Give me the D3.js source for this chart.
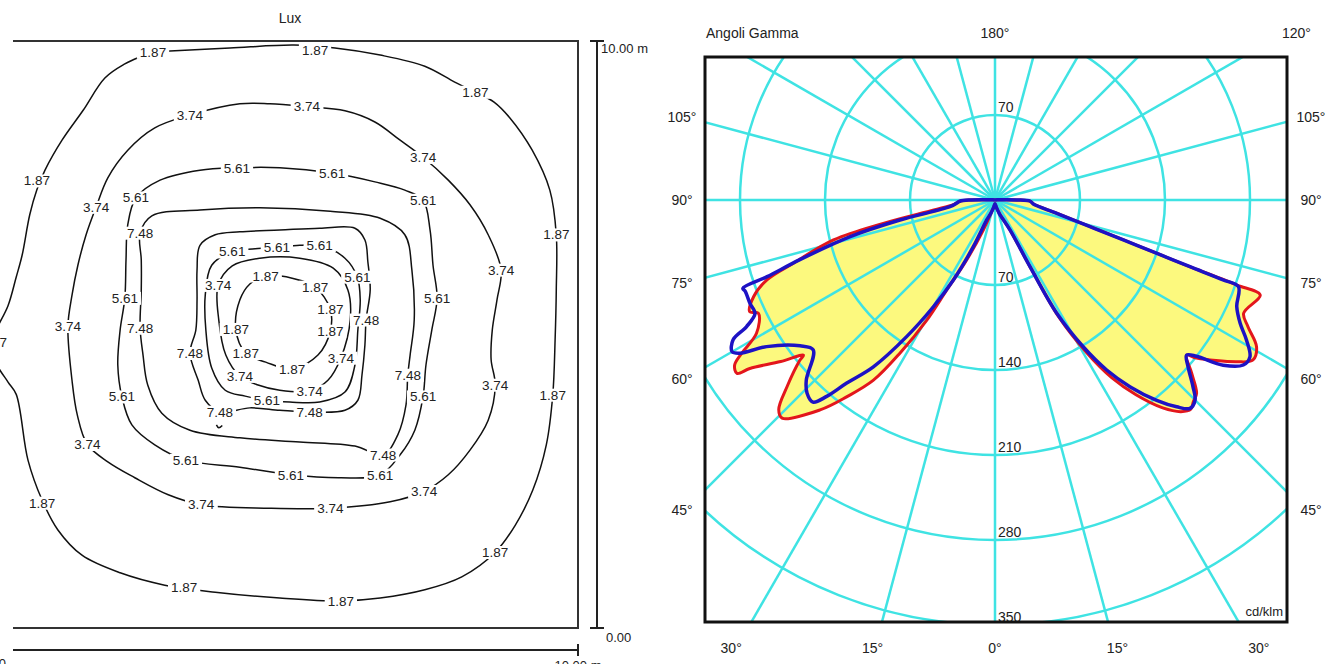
<!DOCTYPE html>
<html>
<head>
<meta charset="utf-8">
<script src="https://cdn.jsdelivr.net/npm/d3@7"></script>
<style>
  body { margin: 0; background: #fff; }
  svg { display: block; }
  text { font-family: "Liberation Sans", Arial, sans-serif; fill: #222; }
</style>
</head>
<body>
<svg id="chart" width="1325" height="664"></svg>
<script>
// ---------- isolux data (metres, 10 x 10 m area) ----------
const iso187Outer = [[2.76,9.81],[2.54,9.73],[2.28,9.61],[1.94,9.37],[1.57,8.82],[1.21,8.31],[0.92,7.80],[0.78,7.46],
  [0.66,7.04],[0.53,6.35],[0.43,5.98],[0.29,5.49],[0.09,5.08],[0.02,4.87],[0.09,4.51],[0.29,4.19],[0.43,3.98],
  [0.63,2.86],[0.87,2.18],[1.14,1.67],[1.55,1.24],[2.20,0.94],[2.96,0.73],[3.82,0.61],[4.92,0.51],[5.96,0.46],
  [6.63,0.51],[7.39,0.65],[8.02,0.87],[8.59,1.29],[8.93,1.75],[9.23,2.35],[9.46,3.12],[9.57,3.97],[9.61,4.91],
  [9.63,5.76],[9.63,6.70],[9.52,7.46],[9.22,8.14],[8.84,8.69],[8.57,8.96],[8.25,9.13],[7.90,9.30],[7.39,9.57],
  [6.63,9.76],[5.86,9.88],[5.16,9.93],[4.07,9.88],[3.05,9.83]];
const iso374Outer = [[3.39,8.74],[4.24,8.93],[4.75,8.93],[5.38,8.88],[6.03,8.81],[6.54,8.62],[6.97,8.31],[7.36,8.02],
  [7.79,7.63],[8.16,7.21],[8.47,6.70],[8.69,6.10],[8.62,5.59],[8.54,5.08],[8.52,4.57],[8.59,4.14],[8.47,3.54],
  [8.16,3.03],[7.79,2.61],[7.38,2.33],[6.80,2.15],[5.78,2.04],[4.75,2.04],[3.58,2.10],[3.02,2.27],[2.45,2.56],
  [1.99,2.83],[1.64,3.13],[1.47,3.63],[1.38,4.22],[1.31,5.14],[1.38,5.67],[1.48,6.18],[1.62,6.70],[1.79,7.17],
  [1.99,7.67],[2.33,8.14],[2.79,8.52]];
const iso561Outer = [[2.47,7.33],[2.88,7.63],[3.56,7.80],[4.19,7.84],[4.92,7.84],[5.81,7.75],[6.54,7.60],[7.05,7.46],
  [7.36,7.29],[7.48,6.78],[7.53,6.18],[7.60,5.62],[7.51,5.08],[7.41,4.48],[7.36,3.94],[7.22,3.37],[6.97,2.95],
  [6.63,2.61],[5.95,2.56],[5.11,2.61],[4.24,2.74],[3.32,2.86],[2.79,3.12],[2.40,3.46],[2.23,3.94],[2.16,4.48],
  [2.20,5.08],[2.28,5.62],[2.30,6.27],[2.33,6.87]];
const iso748Outer = [[2.54,6.73],[2.74,7.02],[3.56,7.12],[4.58,7.16],[5.78,7.10],[6.63,6.98],[7.05,6.70],[7.17,6.10],
  [7.21,5.25],[7.14,4.65],[7.10,4.31],[7.07,3.80],[6.93,3.29],[6.68,2.95],[6.20,3.10],[5.26,3.17],[4.24,3.24],
  [3.39,3.37],[2.91,3.66],[2.67,4.14],[2.59,4.65],[2.54,5.11],[2.56,5.76],[2.56,6.27]];
const iso748Inner = [[3.56,6.52],[3.82,6.70],[4.24,6.75],[4.92,6.78],[5.60,6.81],[6.20,6.81],[6.37,6.61],[6.42,6.24],
  [6.46,5.76],[6.39,5.25],[6.37,4.82],[6.32,4.31],[6.25,3.88],[6.03,3.71],[5.43,3.68],[4.92,3.71],[4.41,3.75],
  [3.90,3.68],[3.65,3.88],[3.53,4.22],[3.39,4.68],[3.49,5.08],[3.51,5.59],[3.51,6.10]];
const iso561Inner = [[4.11,6.41],[4.50,6.46],[4.87,6.49],[5.26,6.52],[5.60,6.52],[6.03,6.30],[6.24,5.98],[6.29,5.59],
  [6.25,5.08],[6.20,4.48],[6.03,4.02],[5.60,3.85],[5.09,3.85],[4.70,3.88],[4.33,3.95],[3.99,4.05],[3.76,4.43],
  [3.66,5.08],[3.65,5.67],[3.76,6.18]];
const iso374Inner = [[3.87,5.84],[4.11,6.17],[4.58,6.30],[5.26,6.30],[5.83,6.13],[6.08,5.76],[6.12,5.25],[5.96,4.60],
  [5.74,4.22],[5.43,4.04],[4.92,4.05],[4.55,4.14],[4.24,4.29],[4.00,4.65],[3.88,5.25]];
const iso187Inner = [[4.68,6.00],[5.13,5.96],[5.52,5.81],[5.78,5.43],[5.78,5.06],[5.57,4.65],[5.13,4.41],[4.68,4.53],
  [4.34,4.68],[4.17,5.09],[4.24,5.59],[4.41,5.86]];
const iso748Spot = [[3.84,3.46],[3.88,3.41],[3.94,3.45]];

const labels187 = [[2.76,9.81],[5.52,9.85],[8.25,9.13],[0.78,7.62],[9.63,6.70],[0.05,4.87],[9.57,3.97],[0.87,2.13],
  [8.59,1.29],[3.29,0.70],[5.96,0.46],[4.68,6.00],[5.52,5.81],[5.78,5.43],[5.78,5.06],[5.13,4.41],[4.34,4.68],[4.17,5.09]];
const labels374 = [[3.39,8.74],[5.38,8.88],[7.36,8.02],[1.79,7.17],[8.69,6.10],[1.31,5.14],[8.59,4.14],[1.64,3.13],
  [7.38,2.33],[3.58,2.10],[5.78,2.04],[3.87,5.84],[5.96,4.60],[4.24,4.29],[5.43,4.04]];
const labels561 = [[4.19,7.84],[5.81,7.75],[7.36,7.29],[2.47,7.33],[7.60,5.62],[2.28,5.62],[2.23,3.94],[7.36,3.94],
  [3.32,2.86],[5.11,2.61],[6.63,2.61],[4.11,6.41],[4.87,6.49],[5.60,6.52],[6.24,5.98],[4.70,3.88]];
const labels748 = [[2.54,6.73],[2.54,5.11],[7.10,4.31],[6.68,2.95],[6.39,5.25],[3.39,4.68],[5.43,3.68],[3.90,3.68]];

// ---------- photometric data (gamma deg, cd/klm) ----------
const redLeft = [[0,3],[10,6],[18,14],[21.3,26.5],[25.3,54.6],[28.2,84],[29.6,114],[31.8,148],[34,179],[37,203],
  [39.8,225],[44.3,251],[45.9,248],[48.1,230],[50.6,208],[51,203],[53,221],[55.5,245],[56.1,256],[57.6,254],
  [58.8,244],[60.8,225],[64.4,216],[65.5,222],[68.2,214],[70.7,199],[72.6,174],[76.1,137],[78.2,94],[80.8,51],
  [84,34],[88,29],[90,20],[93,2],[180,0]];
const redRight = [[0,3],[10,6],[18,12],[26.6,28],[27.7,64],[28.6,110],[31,147],[33.3,175],[35.9,198],[38.9,220],
  [41.3,232],[43.1,236],[44.5,233],[46.2,230],[48.6,216],[51,203],[51.9,211],[56.2,239.5],[58.2,250],[60.7,247],
  [63.4,233],[65.5,225],[70.3,232],[70.6,212],[70.8,199],[71.1,170],[71.75,141],[72.7,112],[74.3,82],[77.8,53],
  [84,32],[88,29],[90,18],[93,2],[180,0]];
const blueLeft = [[0,3],[10,6],[18,12],[22.6,17.8],[24.9,42.4],[27.5,74.3],[30,101.5],[32.9,134],[36.1,170],[39,194],
  [40.6,213],[42,224],[44.2,222],[46.3,215],[50.5,194],[53.2,200.5],[57.3,223.5],[59,245],[60,250],[61.9,244.5],
  [63,229.6],[64.7,218.6],[67.1,219],[69.9,219],[70.7,220],[71.4,198],[73,168],[75.8,123],[78.1,80],[81.5,37.5],
  [85,32],[88,29],[90,20],[93,2],[180,0]];
const blueRight = [[0,3],[10,6],[18,12],[26.6,27.6],[27.7,62],[28.6,106],[31,141],[33.3,167.5],[35.9,190],[38.9,212],
  [41.3,226.7],[43.1,235],[45,233],[46.7,224],[49.2,210],[51,203],[52.2,210],[54.1,232],[56.4,245.5],[58.4,246.5],
  [60.9,237],[63.3,226],[66.2,217.6],[70.4,212.8],[70.7,199],[71.1,169.7],[71.75,140],[72.7,110.7],[74.3,81.3],
  [77.8,52],[84,31.7],[88,29],[90,18],[93,2],[180,0]];

const radialTicks = [70, 140, 210, 280, 350];
const sideGammaLabels = [105, 90, 75, 60, 45];
const bottomGammaLabels = [30, 15, 0];

// ---------- left panel: isolux ----------
const svg = d3.select("#chart");
const x = d3.scaleLinear().domain([0, 10]).range([-9, 578]);
const y = d3.scaleLinear().domain([0, 10]).range([628, 41]);

const left = svg.append("g");

left.append("text").attr("x", 290).attr("y", 23).attr("text-anchor", "middle")
  .style("font-size", "14px").text("Lux");

// frame (left side falls outside the picture)
left.append("path")
  .attr("d", `M13,${y(10)}H${x(10)}V${y(0)}H13`)
  .attr("fill", "none").attr("stroke", "#333").attr("stroke-width", 2);

const isoLine = d3.line().x(d => x(d[0])).y(d => y(d[1])).curve(d3.curveCatmullRomClosed.alpha(0.5));
const isoOpen = d3.line().x(d => x(d[0])).y(d => y(d[1])).curve(d3.curveCatmullRom.alpha(0.5));

[iso187Outer, iso374Outer, iso561Outer, iso748Outer, iso748Inner, iso561Inner, iso374Inner, iso187Inner]
  .forEach(c => {
    left.append("path").attr("d", isoLine(c))
      .attr("fill", "none").attr("stroke", "#111").attr("stroke-width", 1.5);
  });
left.append("path").attr("d", isoOpen(iso748Spot))
  .attr("fill", "none").attr("stroke", "#111").attr("stroke-width", 1.5);

// labels sit in a white gap cut out of the line
[["1.87", labels187], ["3.74", labels374], ["5.61", labels561], ["7.48", labels748]].forEach(([lv, pts]) => {
  pts.forEach(d => {
    const g = left.append("g");
    const t = g.append("text")
      .attr("x", x(d[0])).attr("y", y(d[1]))
      .attr("dy", "0.35em").attr("text-anchor", "middle")
      .style("font-size", "13.5px")
      .text(lv);
    const b = t.node().getBBox();
    g.insert("rect", "text")
      .attr("x", b.x - 3).attr("y", b.y + 1).attr("width", b.width + 6).attr("height", b.height - 2)
      .attr("fill", "#fff");
  });
});

// scale bars
const bars = left.append("g").attr("stroke", "#222").attr("stroke-width", 2).attr("fill", "none");
bars.append("path").attr("d", `M597,${y(10)}V${y(0)}M590,${y(10)}H604M590,${y(0)}H604`);
bars.append("path").attr("d", `M13,650H${x(10)}M${x(10)},644V656`);

left.append("text").attr("x", 601).attr("y", 53).style("font-size", "13px").text("10.00 m");
left.append("text").attr("x", 606).attr("y", 642).style("font-size", "13px").text("0.00");
left.append("text").attr("x", 6).attr("y", 668).attr("text-anchor", "end").style("font-size", "13px").text("0.00");
left.append("text").attr("x", x(10)).attr("y", 670).attr("text-anchor", "middle").style("font-size", "13px").text("10.00 m");

// ---------- right panel: polar diagram ----------
const cx = 995, cy = 200;
const fx0 = 705, fx1 = 1287, fy0 = 57, fy1 = 622;
const r = d3.scaleLinear().domain([0, 350]).range([0, 425]);
const rad = Math.PI / 180;

svg.append("clipPath").attr("id", "frameClip")
  .append("rect").attr("x", fx0).attr("y", fy0).attr("width", fx1 - fx0).attr("height", fy1 - fy0);

const polar = svg.append("g").attr("clip-path", "url(#frameClip)");
const pg = polar.append("g").attr("transform", `translate(${cx},${cy})`);

function outline(leftPts, rightPts) {
  const pts = rightPts.slice().reverse().map(d => ({ a: Math.PI - d[0] * rad, v: d[1] }))
    .concat(leftPts.slice(1).map(d => ({ a: Math.PI + d[0] * rad, v: d[1] })));
  return d3.lineRadial().angle(d => d.a).radius(d => r(d.v))
    .curve(d3.curveCatmullRom.alpha(0.5))(pts);
}

pg.append("path").attr("d", outline(redLeft, redRight) + "Z")
  .attr("fill", "#fcf97e").attr("stroke", "none");

const grid = pg.append("g").attr("stroke", "#3fe3e3").attr("stroke-width", 2.5).attr("fill", "none");
radialTicks.forEach(v => grid.append("circle").attr("r", r(v)));
d3.range(0, 360, 15).forEach(a => {
  grid.append("line").attr("x1", 0).attr("y1", 0)
    .attr("x2", 900 * Math.sin(a * rad)).attr("y2", 900 * Math.cos(a * rad));
});

pg.append("path").attr("d", outline(redLeft, redRight))
  .attr("fill", "none").attr("stroke", "#e3161c").attr("stroke-width", 3).attr("stroke-linejoin", "round");
pg.append("path").attr("d", outline(blueLeft, blueRight))
  .attr("fill", "none").attr("stroke", "#1d12c4").attr("stroke-width", 3.5).attr("stroke-linejoin", "round");

// radial value labels
pg.append("text").attr("x", 3).attr("y", -r(70) - 3).style("font-size", "14px").text(radialTicks[0]);
radialTicks.forEach(v => {
  pg.append("text").attr("x", 3).attr("y", r(v) - 3).style("font-size", "14px").text(v);
});

svg.append("rect").attr("x", fx0).attr("y", fy0).attr("width", fx1 - fx0).attr("height", fy1 - fy0)
  .attr("fill", "none").attr("stroke", "#111").attr("stroke-width", 3);

svg.append("text").attr("x", fx1 - 4).attr("y", fy1 - 6).attr("text-anchor", "end")
  .style("font-size", "13px").text("cd/klm");

// angle labels
const lab = svg.append("g").style("font-size", "14px").attr("text-anchor", "middle");
lab.append("text").attr("x", 706).attr("y", 38).attr("text-anchor", "start").text("Angoli Gamma");
lab.append("text").attr("x", cx).attr("y", 38).text("180°");
lab.append("text").attr("x", cx + 174 * Math.tan(60 * rad)).attr("y", 38).text("120°");
sideGammaLabels.forEach(g => {
  const yy = cy + 310 * Math.cos(g * rad) / Math.sin(g * rad);
  lab.append("text").attr("x", 682).attr("y", yy + 5).text(g + "°");
  lab.append("text").attr("x", 1311).attr("y", yy + 5).text(g + "°");
});
bottomGammaLabels.forEach(g => {
  const dx = 457 * Math.tan(g * rad);
  lab.append("text").attr("x", cx - dx).attr("y", 653).text(g + "°");
  if (g > 0) lab.append("text").attr("x", cx + dx).attr("y", 653).text(g + "°");
});
</script>
</body>
</html>
